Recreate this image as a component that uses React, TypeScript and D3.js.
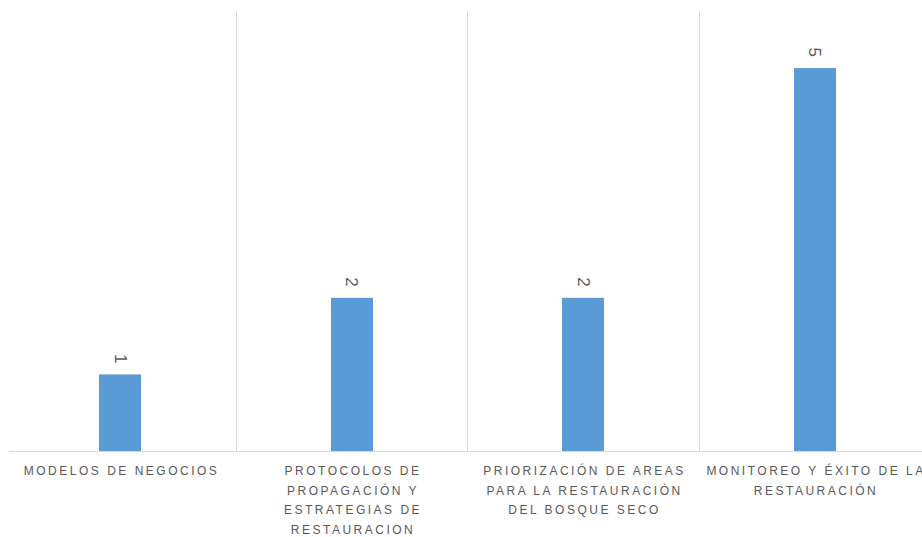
import React from "react";
import * as d3 from "d3";

const categories: string[][] = [
  ["MODELOS DE NEGOCIOS"],
  ["PROTOCOLOS DE", "PROPAGACIÓN Y", "ESTRATEGIAS DE", "RESTAURACION"],
  ["PRIORIZACIÓN DE AREAS", "PARA LA RESTAURACIÓN", "DEL BOSQUE SECO"],
  ["MONITOREO Y ÉXITO DE LA", "RESTAURACIÓN"],
];
const values: number[] = [1, 2, 2, 5];

const W = 922;
const H = 537;

export default function App() {
  const keys = categories.map((_, i) => String(i));
  const x = d3.scaleBand<string>().domain(keys).range([4.5, 930.5]).paddingInner(0).paddingOuter(0);
  const y = d3.scaleLinear().domain([0, 5.745]).range([451, 11]);
  const bw = 42;
  const gridXs = keys.slice(1).map((k) => Math.floor(x(k) as number) + 0.5);
  const font = "'Liberation Sans', Arial, sans-serif";
  return (
    <svg
      width={W}
      height={H}
      style={{ position: "absolute", left: 0, top: 0, display: "block", background: "#fff" }}
    >
      {gridXs.map((gx, i) => (
        <line key={i} x1={gx} x2={gx} y1={11} y2={451} stroke="#d9d9d9" strokeWidth={1} />
      ))}
      {values.map((v, i) => {
        const cx = (x(keys[i]) as number) + x.bandwidth() / 2;
        return (
          <g key={i}>
            <rect x={Math.round(cx - bw / 2)} y={y(v)} width={bw} height={y(0) - y(v)} fill="#5b9bd5" />
            <text
              transform={`translate(${cx},${y(v) - 11}) rotate(90)`}
              textAnchor="end"
              dominantBaseline="central"
              fontFamily={font}
              fontSize={17}
              fill="#595959"
            >
              {v}
            </text>
          </g>
        );
      })}
      <line x1={9} x2={922} y1={451.5} y2={451.5} stroke="#d9d9d9" strokeWidth={1} />
      {categories.map((lines, i) => {
        const cx = (x(keys[i]) as number) + x.bandwidth() / 2;
        return (
          <text
            key={i}
            textAnchor="middle"
            fontFamily={font}
            fontSize={12}
            letterSpacing={2.5}
            fill="#595959"
          >
            {lines.map((l, j) => (
              <tspan key={j} x={cx + 1.3} y={475 + j * 19.7}>
                {l}
              </tspan>
            ))}
          </text>
        );
      })}
    </svg>
  );
}
